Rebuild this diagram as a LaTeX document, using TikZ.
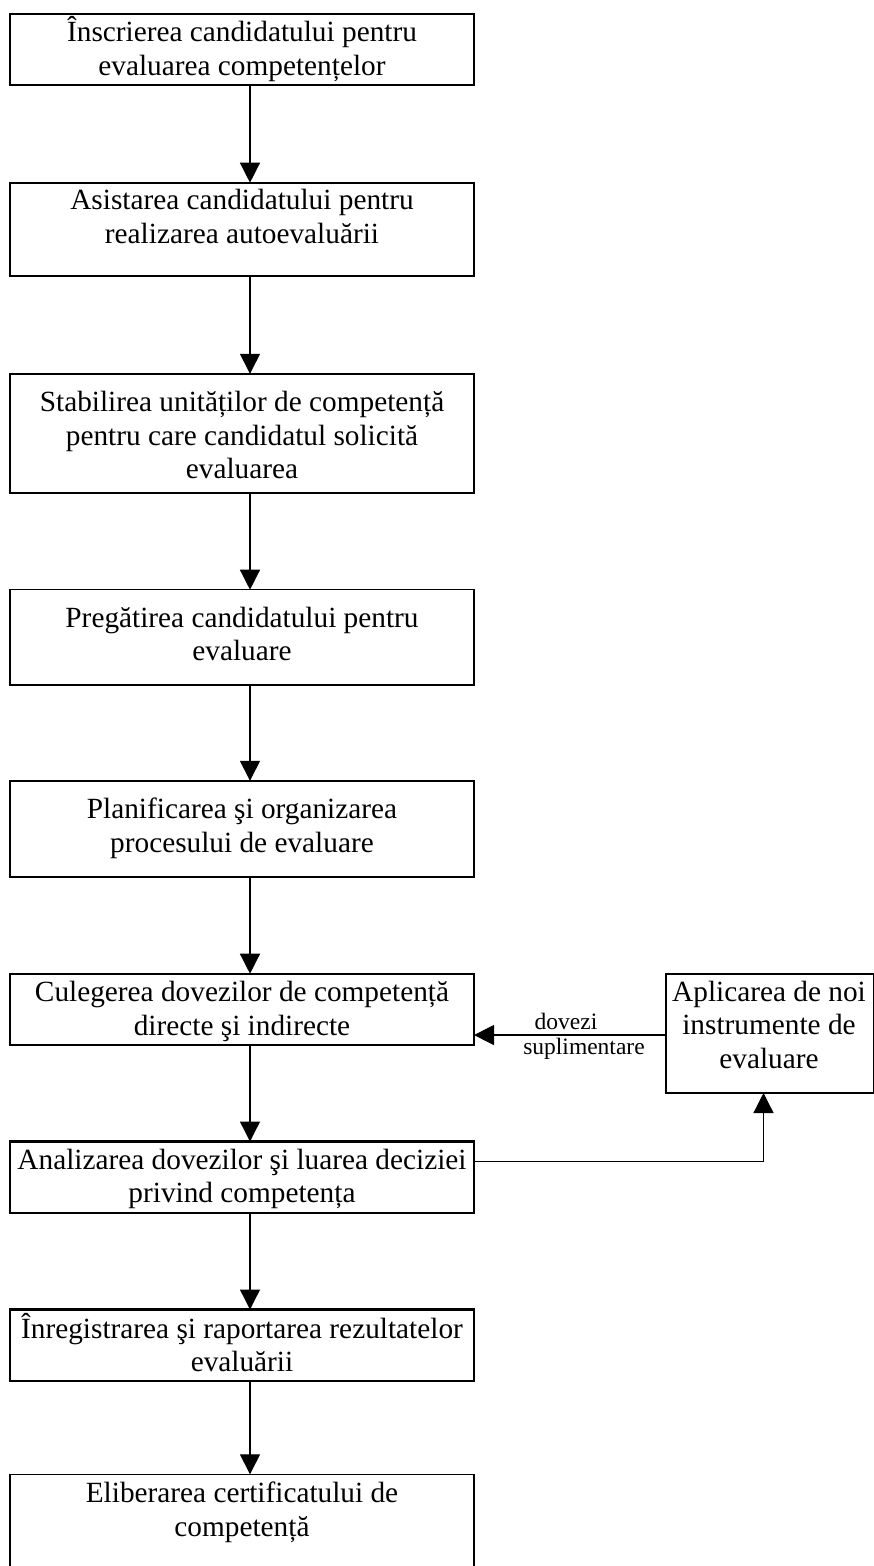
\documentclass[tikz,border=0pt]{standalone}
\usepackage{fontspec}
\setmainfont{Liberation Serif}
\usetikzlibrary{arrows.meta}
\begin{document}
\begin{tikzpicture}[x=1pt,y=-1pt,
  thickbox/.style={draw, line width=2.2pt, rectangle, inner sep=0pt, outer sep=0pt, anchor=north west, minimum width=464pt},
  thinbox/.style={draw, line width=1.4pt, rectangle, inner sep=0pt, outer sep=0pt, anchor=north west, minimum width=464pt},
  txt/.style={align=center, anchor=base, inner sep=0pt, font=\fontsize{29.3}{33.5}\selectfont},
  lbl/.style={anchor=base, inner sep=0pt, font=\fontsize{23.5}{27}\selectfont},
  arr/.style={line width=1.3pt, -{Triangle[length=20pt,width=20pt]}}]
\useasboundingbox (0,0) rectangle (873,1566);

% boxes
\node[thickbox, minimum height=70.7pt] (b1) at (10,14.3) {};
\node[thickbox, minimum height=93.6pt] (b2) at (10,182.7) {};
\node[thinbox,  minimum height=119.1pt] (b3) at (10,373.8) {};
\node[thinbox,  minimum height=95.4pt] (b4) at (10,589.7) {};
\node[thinbox,  minimum height=96.1pt] (b5) at (10,780.8) {};
\node[thickbox, minimum height=71.3pt] (b6) at (10,973.7) {};
\node[thickbox, minimum height=71.5pt] (b7) at (10,1141.5) {};
\node[thickbox, minimum height=71.5pt] (b8) at (10,1309.5) {};
\node[thinbox,  minimum height=95pt] (b9) at (10,1474.3) {};
\node[thickbox, minimum width=208pt, minimum height=119.3pt] (side) at (666,973.7) {};

% texts (anchor = baseline of the last line)
\node[txt] (t1) at (242,75) {Înscrierea candidatului pentru\\evaluarea competențelor};
\node[txt] (t2) at (242,243) {Asistarea candidatului pentru\\realizarea autoevaluării};
\node[txt] (t3) at (242,478.8) {Stabilirea unităților de competență\\pentru care candidatul solicită\\evaluarea};
\node[txt] (t4) at (242,660.6) {Pregătirea candidatului pentru\\evaluare};
\node[txt] (t5) at (242,852.4) {Planificarea şi organizarea\\procesului de evaluare};
\node[txt] (t6) at (242,1035) {Culegerea dovezilor de competență\\directe şi indirecte};
\node[txt] (t7) at (242,1202.7) {Analizarea dovezilor şi luarea deciziei\\privind competența};
\node[txt] (t8) at (242,1371.7) {Înregistrarea şi raportarea rezultatelor\\evaluării};
\node[txt] (t9) at (242,1536) {Eliberarea certificatului de\\competență};
\node[txt] (ts) at (769,1068.3) {Aplicarea de noi\\instrumente de\\evaluare};

% labels
\node[lbl] (l1) at (566,1029) {dovezi};
\node[lbl] (l2) at (584,1054.3) {suplimentare};

% connectors
\draw[arr] ([xshift=8pt]b1.south) -- ([xshift=8pt]b2.north);
\draw[arr] ([xshift=8pt]b2.south) -- ([xshift=8pt]b3.north);
\draw[arr] ([xshift=8pt]b3.south) -- ([xshift=8pt]b4.north);
\draw[arr] ([xshift=8pt]b4.south) -- ([xshift=8pt]b5.north);
\draw[arr] ([xshift=8pt]b5.south) -- ([xshift=8pt]b6.north);
\draw[arr] ([xshift=8pt]b6.south) -- ([xshift=8pt]b7.north);
\draw[arr] ([xshift=8pt]b7.south) -- ([xshift=8pt]b8.north);
\draw[arr] ([xshift=8pt]b8.south) -- ([xshift=8pt]b9.north);
\draw[arr] ([yshift=-1.7pt]side.west) -- ([yshift=-1.7pt]side.west -| b6.east);
\draw[arr] ([yshift=15.5pt]b7.east) -| ([xshift=-6.5pt]side.south);
\end{tikzpicture}
\end{document}
